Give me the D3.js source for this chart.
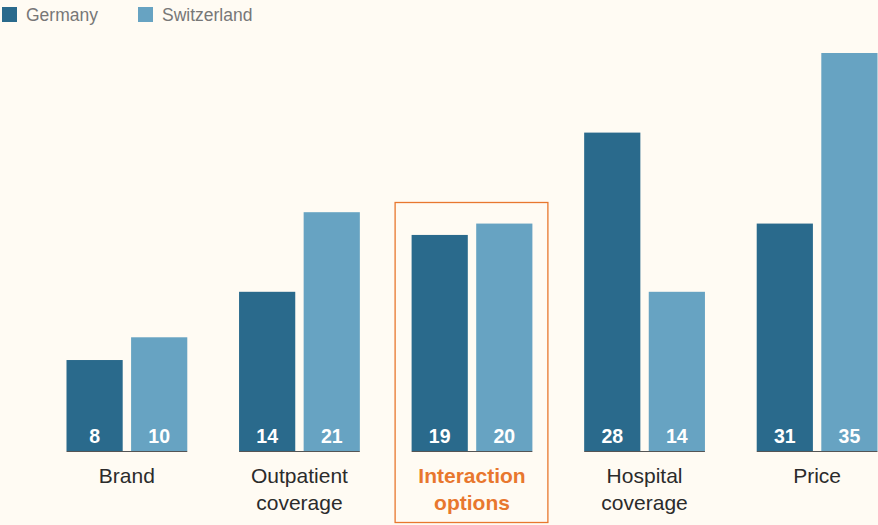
<!DOCTYPE html>
<html>
<head>
<meta charset="utf-8">
<script src="https://cdn.jsdelivr.net/npm/d3@7"></script>
<style>
  html, body { margin: 0; padding: 0; background: #fffbf3; }
  svg { display: block; font-family: "Liberation Sans", Arial, Helvetica, sans-serif; }
</style>
</head>
<body>
<div id="chart"></div>
<script>
  const categories = [["Brand"], ["Outpatient", "coverage"], ["Interaction", "options"], ["Hospital", "coverage"], ["Price"]];
  const series = ["Germany", "Switzerland"];
  const germanyLabels = [8, 14, 19, 28, 31];
  const switzerlandLabels = [10, 21, 20, 14, 35];
  // bar heights as drawn in the source (Price/Germany bar is drawn at ~20 although labelled 31)
  const germanyBars = [8, 14, 19, 28, 20];
  const switzerlandBars = [10, 21, 20, 14, 35];
  const highlight = 2; // "Interaction options"

  const width = 878, height = 525;
  const colors = { Germany: '#2a6a8c', Switzerland: '#67a3c2' };
  const orange = '#e8772e';

  const svg = d3.select('#chart').append('svg')
    .attr('width', width).attr('height', height);

  svg.append('rect').attr('width', width).attr('height', height).attr('fill', '#fffbf3');

  const keys = categories.map((c, i) => i);
  const x0 = d3.scaleBand().domain(keys).range([66.5, 877.5]).paddingInner(0.3).paddingOuter(0);
  const x1 = d3.scaleBand().domain(series).range([0, x0.bandwidth()]).paddingInner(0.13);
  const y = d3.scaleLinear().domain([0, 35]).range([451, 53]);

  // ---------- highlight box ----------
  svg.append('rect')
    .attr('x', x0(highlight) - 16.5)
    .attr('y', 202.5)
    .attr('width', x0.bandwidth() + 32)
    .attr('height', 320)
    .attr('fill', 'none')
    .attr('stroke', orange)
    .attr('stroke-width', 1.3);

  const rows = keys.map(i => ({
    i,
    bars: [
      { s: 'Germany', v: germanyBars[i], label: germanyLabels[i] },
      { s: 'Switzerland', v: switzerlandBars[i], label: switzerlandLabels[i] }
    ]
  }));

  const g = svg.selectAll('g.group').data(rows).enter().append('g')
    .attr('class', 'group')
    .attr('transform', d => `translate(${x0(d.i)},0)`);

  g.selectAll('rect.bar').data(d => d.bars).enter().append('rect')
    .attr('class', 'bar')
    .attr('x', d => x1(d.s))
    .attr('y', d => y(d.v))
    .attr('width', x1.bandwidth())
    .attr('height', d => y(0) - y(d.v))
    .attr('fill', d => colors[d.s]);

  g.selectAll('text.val').data(d => d.bars).enter().append('text')
    .attr('class', 'val')
    .attr('x', d => x1(d.s) + x1.bandwidth() / 2)
    .attr('y', y(0) - 8)
    .attr('text-anchor', 'middle')
    .attr('fill', '#fff')
    .style('font-size', '19.5px')
    .style('font-weight', 'bold')
    .text(d => d.label);

  // baseline under each group
  g.append('line')
    .attr('x1', 0).attr('x2', x0.bandwidth())
    .attr('y1', y(0) + 0.5).attr('y2', y(0) + 0.5)
    .attr('stroke', '#555')
    .attr('stroke-width', 1.2);

  // category labels
  const lab = g.append('text')
    .attr('text-anchor', 'middle')
    .attr('fill', d => d.i === highlight ? orange : '#2b2b2b')
    .style('font-size', '21px')
    .style('font-weight', d => d.i === highlight ? 'bold' : 'normal');
  lab.selectAll('tspan').data(d => categories[d.i]).enter().append('tspan')
    .attr('x', x0.bandwidth() / 2)
    .attr('y', (d, j) => 483 + j * 27)
    .text(d => d);

  // ---------- legend ----------
  const legendX = [2, 138];
  const leg = svg.selectAll('g.legend').data(series).enter().append('g')
    .attr('class', 'legend')
    .attr('transform', (d, i) => `translate(${legendX[i]},7)`);
  leg.append('rect').attr('width', 15).attr('height', 15).attr('fill', d => colors[d]);
  leg.append('text')
    .attr('x', 24).attr('y', 13.5)
    .attr('fill', '#777')
    .style('font-size', '17.5px')
    .text(d => d);
</script>
</body>
</html>
